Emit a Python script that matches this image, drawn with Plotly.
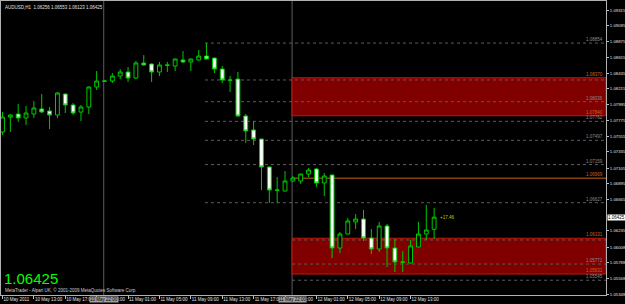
import plotly.graph_objects as go

# ---------------- data ----------------
symbol_title = "AUDUSD,H1  1.06256 1.06553 1.06123 1.06425"
bar_index = list(range(56))
opens = [1.07613, 1.07822, 1.07864, 1.07808, 1.07864, 1.07934, 1.07906, 1.07850, 1.08143, 1.07990,
         1.07892, 1.07962, 1.08241, 1.08325, 1.08325, 1.08394, 1.08450, 1.08366, 1.08576, 1.08562,
         1.08450, 1.08548, 1.08534, 1.08618, 1.08590, 1.08618, 1.08673, 1.08645, 1.08492, 1.08339,
         1.08352, 1.07836, 1.07641, 1.07515, 1.07125, 1.06804, 1.06790, 1.06930, 1.06930, 1.07027,
         1.07097, 1.06902, 1.07013, 1.05995, 1.06190, 1.06358, 1.06399, 1.06134, 1.05981, 1.06302,
         1.05995, 1.05800, 1.05786, 1.06009, 1.06190, 1.06256]
highs = [1.07892, 1.07864, 1.08004, 1.07976, 1.08046, 1.08143, 1.07962, 1.08171, 1.08150, 1.08018,
         1.07990, 1.08250, 1.08464, 1.08339, 1.08436, 1.08492, 1.08520, 1.08604, 1.08687, 1.08570,
         1.08590, 1.08590, 1.08640, 1.08743, 1.08638, 1.08757, 1.08855, 1.08650, 1.08534, 1.08394,
         1.08450, 1.07864, 1.07767, 1.07520, 1.07130, 1.06985, 1.07069, 1.06999, 1.07030, 1.07111,
         1.07111, 1.07041, 1.07020, 1.06218, 1.06413, 1.06469, 1.06525, 1.06260, 1.06358, 1.06330,
         1.06120, 1.05953, 1.06107, 1.06358, 1.06595, 1.06553]
lows = [1.07571, 1.07613, 1.07753, 1.07711, 1.07808, 1.07878, 1.07655, 1.07808, 1.07878, 1.07850,
        1.07767, 1.07864, 1.08199, 1.08311, 1.08297, 1.08352, 1.08311, 1.08352, 1.08541, 1.08311,
        1.08394, 1.08450, 1.08464, 1.08576, 1.08464, 1.08612, 1.08625, 1.08436, 1.08297, 1.08171,
        1.07830, 1.07460, 1.07432, 1.06804, 1.06623, 1.06623, 1.06785, 1.06916, 1.06888, 1.06985,
        1.06846, 1.06720, 1.05855, 1.05925, 1.06185, 1.06260, 1.06093, 1.05911, 1.05939, 1.05730,
        1.05660, 1.05660, 1.05780, 1.06005, 1.06107, 1.06123]
closes = [1.07822, 1.07850, 1.07808, 1.07878, 1.07948, 1.07892, 1.07850, 1.08157, 1.07990, 1.07878,
          1.07962, 1.08241, 1.08325, 1.08323, 1.08394, 1.08450, 1.08366, 1.08576, 1.08548, 1.08450,
          1.08548, 1.08545, 1.08631, 1.08590, 1.08631, 1.08673, 1.08631, 1.08492, 1.08339, 1.08335,
          1.07836, 1.07627, 1.07515, 1.07125, 1.06804, 1.06800, 1.06930, 1.06971, 1.07027, 1.07083,
          1.06902, 1.06999, 1.05995, 1.06190, 1.06372, 1.06399, 1.06134, 1.05981, 1.06302, 1.05995,
          1.05800, 1.05797, 1.06023, 1.06190, 1.06246, 1.06425]

current_price = 1.06425
profit_text = "+17.46"

time_tick_index = [0, 4, 8, 12, 16, 20, 24, 28, 32, 36, 40, 44, 48, 52]
time_tick_text = ["10 May 2011", "10 May 13:00", "10 May 17:00", "10 May 21:00", "11 May 01:00",
                  "11 May 05:00", "11 May 09:00", "11 May 13:00", "11 May 17:00", "11 May 21:00",
                  "12 May 01:00", "12 May 05:00", "12 May 09:00", "12 May 13:00"]

price_ticks = [1.09315, 1.09095, 1.08875, 1.08655, 1.08435, 1.08215, 1.07995, 1.07775, 1.07555,
               1.07335, 1.07105, 1.06895, 1.06665, 1.06235, 1.06008, 1.05788, 1.05568, 1.05348]

separator_pos = [12.9, 36.9]
separator_text = ["10 May 22:00", "11 May 22:00"]

dotted_levels = [1.08854, 1.08339, 1.08036, 1.07762, 1.07497, 1.07159, 1.06627, 1.06107, 1.05771, 1.05545]
dotted_start = [25.8, 25.8, 25.8, 25.8, 25.8, 25.8, 25.8, 36.9, 36.9, 36.9]
dotted_label = ["1.08854", "", "1.08036", "1.07762", "1.07497", "1.07159", "1.06627", "", "1.05771", "1.05545"]

zone_top = [1.08370, 1.06131]
zone_bottom = [1.07840, 1.05631]
zone_start = 36.9

solid_level = 1.06969

x_range = [-0.19, 76.9]
y_range = [1.05339, 1.09441]

GREEN = "#00c800"
GRAY_DOT = "#5c5c5c"
ORANGE = "#d2601e"
FONT = "Liberation Sans"

fig = go.Figure()
fig.add_trace(go.Candlestick(
    x=bar_index, open=opens, high=highs, low=lows, close=closes,
    increasing=dict(line=dict(color=GREEN, width=1), fillcolor="#000000"),
    decreasing=dict(line=dict(color=GREEN, width=1), fillcolor="#ffffff"),
    whiskerwidth=0, showlegend=False, hoverinfo="skip"))

shapes = []
for t, b in zip(zone_top, zone_bottom):
    shapes.append(dict(type="rect", xref="x", yref="y", x0=zone_start, x1=x_range[1], y0=b, y1=t,
                       fillcolor="#800000", line=dict(color="#b81c10", width=1), layer="below"))
for lv, st in zip(dotted_levels, dotted_start):
    shapes.append(dict(type="line", xref="x", yref="y", x0=st, x1=x_range[1], y0=lv, y1=lv,
                       line=dict(color=GRAY_DOT, width=1, dash="dot"), layer="below"))
shapes.append(dict(type="line", xref="x", yref="y", x0=zone_start, x1=x_range[1], y0=solid_level, y1=solid_level,
                   line=dict(color=ORANGE, width=1), layer="below"))
for sp in separator_pos:
    shapes.append(dict(type="line", xref="x", yref="paper", x0=sp, x1=sp, y0=0, y1=1,
                       line=dict(color="#5e5e5e", width=1), layer="below"))

annotations = []
small = dict(family=FONT, size=4.5)
for lv, lb in zip(dotted_levels, dotted_label):
    if lb:
        annotations.append(dict(xref="paper", yref="y", x=1, y=lv, text=lb, showarrow=False,
                                xanchor="right", yanchor="bottom", xshift=-1, yshift=-1,
                                font=dict(small, color="#8c8c8c")))
for t, b in zip(zone_top, zone_bottom):
    for lv in (t, b):
        annotations.append(dict(xref="paper", yref="y", x=1, y=lv, text=f"{lv:.5f}", showarrow=False,
                                xanchor="right", yanchor="bottom", xshift=-1, yshift=-1,
                                font=dict(small, color=ORANGE)))
annotations.append(dict(xref="paper", yref="y", x=1, y=solid_level, text=f"{solid_level:.5f}", showarrow=False,
                        xanchor="right", yanchor="bottom", xshift=-1, yshift=-1,
                        font=dict(small, color=ORANGE)))
annotations.append(dict(xref="paper", yref="y", x=1, y=current_price, text=f"{current_price:.5f}",
                        showarrow=False, xanchor="left", xshift=1, bgcolor="#ffffff", borderpad=0,
                        font=dict(small, color="#000000")))
annotations.append(dict(xref="x", yref="y", x=bar_index[-1], y=current_price, text=profit_text,
                        showarrow=False, xanchor="left", xshift=4, font=dict(small, color="#c8c800")))
for sp, tx in zip(separator_pos, separator_text):
    annotations.append(dict(xref="x", yref="paper", x=sp, y=0, text=tx, showarrow=False,
                            xanchor="center", yanchor="top", yshift=-1, bgcolor="#a0a0a0", borderpad=0,
                            font=dict(small, color="#000000")))
annotations.append(dict(xref="paper", yref="paper", x=0, y=1, text=symbol_title, showarrow=False,
                        xanchor="left", yanchor="top", xshift=2, yshift=-2,
                        font=dict(small, color="#e0e0e0")))
annotations.append(dict(xref="paper", yref="paper", x=0, y=0, text=f"{current_price:.5f}", showarrow=False,
                        xanchor="left", yanchor="bottom", xshift=1, yshift=6,
                        font=dict(family=FONT, size=15, color="#00ff00")))
annotations.append(dict(xref="paper", yref="paper", x=0, y=0,
                        text="MetaTrader - Alpari UK, © 2001-2009 MetaQuotes Software Corp.",
                        showarrow=False, xanchor="left", yanchor="bottom", xshift=2, yshift=0,
                        font=dict(small, color="#d0d0d0")))

fig.update_layout(
    width=625, height=304,
    margin=dict(l=1, r=19, t=1, b=9),
    paper_bgcolor="#000000", plot_bgcolor="#000000",
    shapes=shapes, annotations=annotations,
    showlegend=False,
    xaxis=dict(range=x_range, rangeslider=dict(visible=False), showgrid=False, zeroline=False,
               automargin=False, tickangle=0,
               tickmode="array", tickvals=time_tick_index, ticktext=time_tick_text,
               ticks="outside", ticklen=3, tickcolor="#c0c0c0", ticklabelposition="outside right",
               tickfont=dict(family=FONT, size=4.5, color="#e0e0e0"),
               showline=True, linecolor="#b0b0b0", linewidth=1, mirror=True),
    yaxis=dict(range=y_range, side="right", showgrid=False, zeroline=False, automargin=False,
               tickmode="array", tickvals=price_ticks, ticktext=[f"{v:.5f}" for v in price_ticks],
               ticks="outside", ticklen=2, tickcolor="#c0c0c0", ticklabelstandoff=0,
               tickfont=dict(family=FONT, size=4.3, color="#e0e0e0"),
               showline=True, linecolor="#b0b0b0", linewidth=1, mirror=True),
)

fig.write_html("out.html")
